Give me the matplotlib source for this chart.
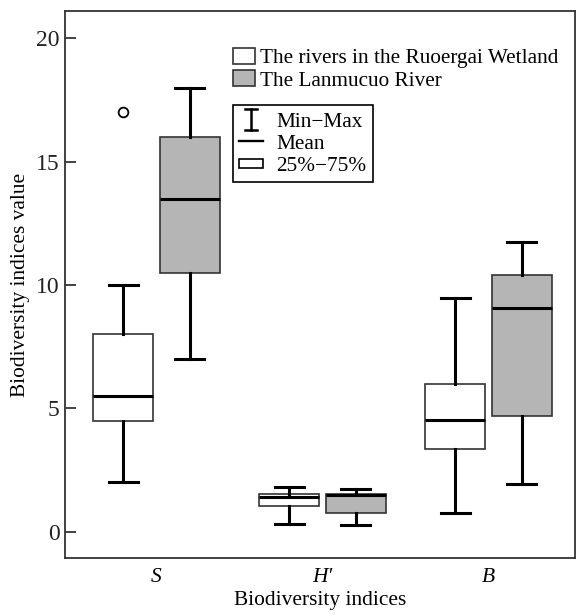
import matplotlib
matplotlib.use("Agg")
import matplotlib.pyplot as plt
from matplotlib.patches import Patch, Rectangle
from matplotlib.lines import Line2D
from matplotlib.legend_handler import HandlerBase
import numpy as np

plt.rcParams['font.family'] = ['Liberation Serif', 'DejaVu Serif']

# —— data —— #
categories = ["S", "H\u2032", "B"]

ruoergai_min = [2.0, 0.30, 0.75]
ruoergai_q1 = [4.5, 1.03, 3.33]
ruoergai_mean = [5.5, 1.40, 4.53]
ruoergai_q3 = [8.0, 1.53, 6.0]
ruoergai_max = [10.0, 1.80, 9.47]
ruoergai_outliers = [[17.0], [], []]

lanmucuo_min = [7.0, 0.27, 1.92]
lanmucuo_q1 = [10.5, 0.76, 4.70]
lanmucuo_mean = [13.5, 1.50, 9.08]
lanmucuo_q3 = [16.0, 1.52, 10.40]
lanmucuo_max = [18.0, 1.74, 11.73]
lanmucuo_outliers = [[], [], []]

group_labels = ["The rivers in the Ruoergai Wetland", "The Lanmucuo River"]
group_colors = ["white", "#b5b5b5"]


def make_stats(lo, q1, med, q3, hi, fl):
    return [dict(whislo=a, q1=b, med=c, q3=d, whishi=e, fliers=f)
            for a, b, c, d, e, f in zip(lo, q1, med, q3, hi, fl)]


stats_r = make_stats(ruoergai_min, ruoergai_q1, ruoergai_mean, ruoergai_q3,
                     ruoergai_max, ruoergai_outliers)
stats_l = make_stats(lanmucuo_min, lanmucuo_q1, lanmucuo_mean, lanmucuo_q3,
                     lanmucuo_max, lanmucuo_outliers)

# —— plot —— #
fig = plt.figure(figsize=(5.76, 6.15), dpi=100)
ax = fig.add_axes([0.113, 0.0927, 0.885, 0.889])

x = np.arange(len(categories))
offset = 0.2
common = dict(widths=0.36, capwidths=0.175, patch_artist=True,
              whiskerprops=dict(color="black", linewidth=2.2),
              capprops=dict(color="black", linewidth=2.2),
              medianprops=dict(color="black", linewidth=2.2),
              flierprops=dict(marker="o", markerfacecolor="none",
                              markeredgecolor="black", markersize=7,
                              markeredgewidth=1.3))
for stats, pos, col in [(stats_r, x - offset, group_colors[0]),
                        (stats_l, x + offset, group_colors[1])]:
    ax.bxp(stats, positions=pos,
           boxprops=dict(facecolor=col, edgecolor="#333333", linewidth=1.2),
           **common)

ax.set_xlim(-0.55, 2.52)
ax.set_ylim(-1.07, 21.1)
ax.set_xticks(x)
ax.set_xticklabels(categories, fontstyle="italic", fontsize=15.5)
ax.tick_params(axis="x", length=0, pad=7)
ax.set_yticks([0, 5, 10, 15, 20])
ax.tick_params(axis="y", direction="in", length=8, width=1.2, pad=4,
               labelsize=17, colors="#222222")
for sp in ax.spines.values():
    sp.set_color("#333333")
    sp.set_linewidth(1.3)

ax.set_xlabel("Biodiversity indices", fontsize=15.4, labelpad=3)
ax.set_ylabel("Biodiversity indices value", fontsize=15.4, labelpad=4)

# —— legends —— #
class MinMaxHandler(HandlerBase):
    def create_artists(self, legend, orig, xd, yd, w, h, fontsize, trans):
        cx = -xd + w / 2
        y0, y1 = -yd - 0.2 * h, -yd + 1.15 * h
        hw = 0.27 * w
        arts = [Line2D([cx, cx], [y0, y1]),
                Line2D([cx - hw, cx + hw], [y0, y0]),
                Line2D([cx - hw, cx + hw], [y1, y1])]
        for a in arts:
            a.set_color("black")
            a.set_linewidth(1.8)
            a.set_transform(trans)
        return arts


class MeanHandler(HandlerBase):
    def create_artists(self, legend, orig, xd, yd, w, h, fontsize, trans):
        ln = Line2D([-xd, -xd + w], [-yd + h / 2] * 2,
                    color="black", linewidth=1.7, transform=trans)
        return [ln]


class BoxHandler(HandlerBase):
    def create_artists(self, legend, orig, xd, yd, w, h, fontsize, trans):
        r = Rectangle((-xd, -yd + 0.2 * h), w, 0.55 * h, facecolor="white",
                      edgecolor="black", linewidth=1.2, transform=trans)
        return [r]


patches = [Patch(facecolor=c, edgecolor="#333333", linewidth=1.2)
           for c in group_colors]
leg1 = ax.legend(patches, group_labels, loc="upper left",
                 bbox_to_anchor=(0.33, 0.933), frameon=False, fontsize=15.3,
                 handlelength=1.0, handleheight=0.8, handletextpad=0.25,
                 labelspacing=0.08, borderpad=0, borderaxespad=0)
ax.add_artist(leg1)

h_minmax, h_mean, h_box = object(), object(), object()
leg2 = ax.legend([h_minmax, h_mean, h_box],
                 ["Min\u2212Max", "Mean", "25%\u221275%"],
                 handler_map={h_minmax: MinMaxHandler(), h_mean: MeanHandler(),
                              h_box: BoxHandler()},
                 loc="upper left", bbox_to_anchor=(0.329, 0.828), fontsize=15.3,
                 handlelength=1.1, handletextpad=0.65, labelspacing=0.1,
                 borderpad=0.3, borderaxespad=0, fancybox=False,
                 edgecolor="black", framealpha=1)
leg2.get_frame().set_linewidth(1.2)

fig.savefig("out.png", dpi=100)
